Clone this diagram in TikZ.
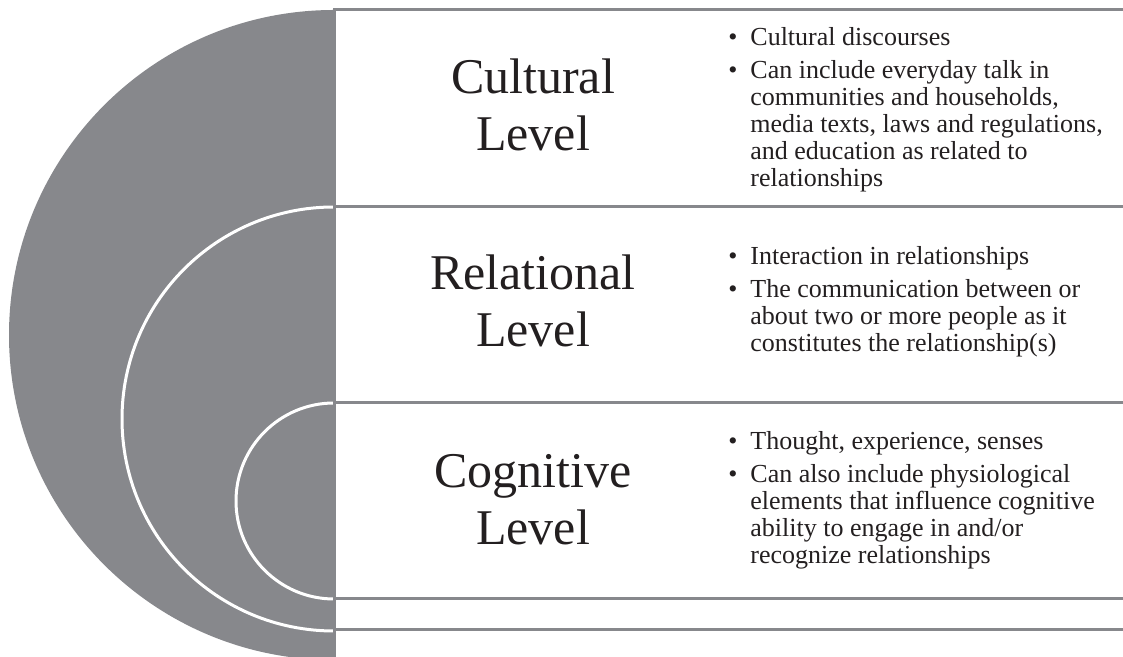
\documentclass[tikz,border=0pt]{standalone}
\usepackage{fontspec}
\setmainfont{Liberation Serif}
\definecolor{levelgray}{RGB}{135,136,140}
\definecolor{ink}{RGB}{35,31,32}
\newcommand{\bul}{\makebox[11pt][l]{\textbullet}}
\newcommand{\ind}{\hspace*{11pt}}

\begin{document}
\begin{tikzpicture}[x=0.5pt, y=0.5pt,
    level/.style={font=\fontsize{25}{28.5}\selectfont, text=ink, align=center, inner sep=0},
    points/.style={font=\fontsize{13}{13.5}\selectfont, text=ink, align=left, inner sep=0, anchor=west},
    rule/.style={levelgray, line width=1.5pt}]
    \useasboundingbox (0,0) rectangle (1123,657);

    % Half disc
    \fill [levelgray] (334,647) arc [start angle=90, end angle=270, radius=162.5pt] -- cycle;

    % Nested arcs
    \draw [white, line width=1.5pt] (334,450) arc [start angle=90, end angle=270, radius=106pt];
    \draw [white, line width=1.5pt] (334,254) arc [start angle=90, end angle=270, radius=49pt];

    % Spine and rules
    \draw [rule] (334,0) -- (334,647) -- (1123,647);
    \foreach \y in {450, 254, 58, 27}
        \draw [rule] (334,\y) -- (1123,\y);

    % Cultural level
    \node [level] (cultural) at (533,552) {Cultural\\Level};
    \node [points] (cultural_pts) at (728,547) {\bul Cultural discourses\\[3pt]
        \bul Can include everyday talk in\\
        \ind communities and households,\\
        \ind media texts, laws and regulations,\\
        \ind and education as related to\\
        \ind relationships};

    % Relational level
    \node [level] (relational) at (533,356) {Relational\\Level};
    \node [points] (relational_pts) at (728,355) {\bul Interaction in relationships\\[3pt]
        \bul The communication between or\\
        \ind about two or more people as it\\
        \ind constitutes the relationship(s)};

    % Cognitive level
    \node [level] (cognitive) at (533,157) {Cognitive\\Level};
    \node [points] (cognitive_pts) at (728,157) {\bul Thought, experience, senses\\[3pt]
        \bul Can also include physiological\\
        \ind elements that influence cognitive\\
        \ind ability to engage in and/or\\
        \ind recognize relationships};
\end{tikzpicture}
\end{document}
